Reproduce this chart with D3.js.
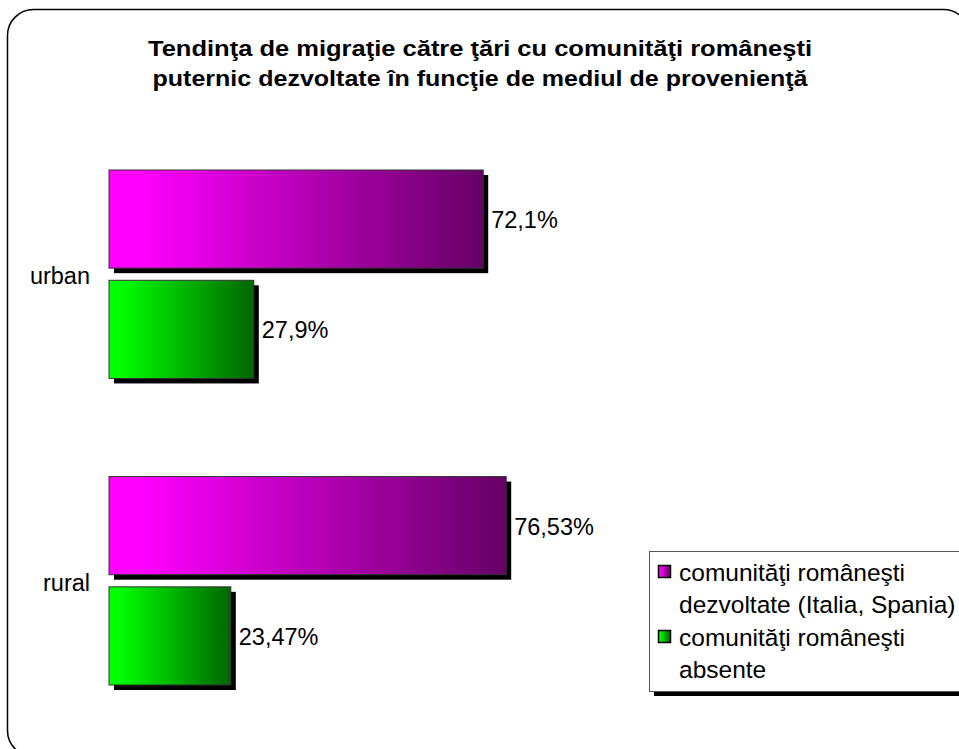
<!DOCTYPE html>
<html>
<head>
<meta charset="utf-8">
<script src="https://cdn.jsdelivr.net/npm/d3@7"></script>
<style>
  html, body { margin: 0; padding: 0; background: #fff; }
  svg { display: block; }
  text { font-family: "Liberation Sans", Arial, sans-serif; }
</style>
</head>
<body>
<script>
const categories = ["urban", "rural"];
const seriesNames = ["comunităţi româneşti dezvoltate (Italia, Spania)", "comunităţi româneşti absente"];
const seriesKeys = ["dezvoltate", "absente"];
const valuesDezvoltate = [72.1, 76.53];
const valuesAbsente = [27.9, 23.47];
const valueLabelsDezvoltate = ["72,1%", "76,53%"];
const valueLabelsAbsente = ["27,9%", "23,47%"];
const titleLines = ["Tendinţa de migraţie către ţări cu comunităţi româneşti",
                    "puternic dezvoltate în funcţie de mediul de provenienţă"];
const legendLines = [["comunităţi româneşti", "dezvoltate (Italia, Spania)"],
                     ["comunităţi româneşti", "absente"]];

const W = 959, H = 749;
const svg = d3.select("body").append("svg").attr("width", W).attr("height", H);

const defs = svg.append("defs");
const grads = [
  {id: "gMag", from: "#ff00ff", to: "#660066"},
  {id: "gGrn", from: "#00ff00", to: "#006600"}
];
grads.forEach(g => {
  const lg = defs.append("linearGradient").attr("id", g.id)
    .attr("x1", "0%").attr("x2", "100%").attr("y1", "0%").attr("y2", "0%");
  lg.append("stop").attr("offset", "0%").attr("stop-color", g.from);
  lg.append("stop").attr("offset", "8%").attr("stop-color", g.from);
  lg.append("stop").attr("offset", "100%").attr("stop-color", g.to);
});
const fills = {dezvoltate: "url(#gMag)", absente: "url(#gGrn)"};

// outer rounded frame
svg.append("rect").attr("x", 7.5).attr("y", 9.5).attr("width", 962).attr("height", 747)
  .attr("rx", 26).attr("ry", 26).attr("fill", "#fff").attr("stroke", "#000").attr("stroke-width", 1.5);

// title
const titleWidths = [664, 655];
svg.append("g").selectAll("text").data(titleLines).join("text")
  .attr("x", 480).attr("y", (d, i) => 56 + i * 30)
  .attr("text-anchor", "middle").attr("font-weight", "bold").attr("font-size", 22)
  .attr("textLength", (d, i) => titleWidths[i]).attr("lengthAdjust", "spacingAndGlyphs")
  .attr("fill", "#000").text(d => d);

const x = d3.scaleLinear().domain([0, 100]).range([109, 628]);
const y0 = d3.scaleBand().domain(categories).range([170, 685]).paddingInner(0.32).paddingOuter(0);
const y1 = d3.scaleBand().domain(seriesKeys).range([0, y0.bandwidth()]).paddingInner(0.11).paddingOuter(0);

const rows = [];
categories.forEach((c, i) => {
  rows.push({cat: c, key: "dezvoltate", v: valuesDezvoltate[i], label: valueLabelsDezvoltate[i]});
  rows.push({cat: c, key: "absente", v: valuesAbsente[i], label: valueLabelsAbsente[i]});
});

const g = svg.append("g");
// shadows
g.selectAll("rect.sh").data(rows).join("rect").attr("class", "sh")
  .attr("x", x(0) + 5).attr("y", d => y0(d.cat) + y1(d.key) + 5)
  .attr("width", d => x(d.v) - x(0)).attr("height", y1.bandwidth())
  .attr("fill", "#000");
// bars
g.selectAll("rect.bar").data(rows).join("rect").attr("class", "bar")
  .attr("x", x(0)).attr("y", d => y0(d.cat) + y1(d.key))
  .attr("width", d => x(d.v) - x(0)).attr("height", y1.bandwidth())
  .attr("fill", d => fills[d.key]).attr("stroke", "#333").attr("stroke-width", 1);
// value labels
g.selectAll("text.val").data(rows).join("text").attr("class", "val")
  .attr("x", d => x(d.v) + 8).attr("y", d => y0(d.cat) + y1(d.key) + y1.bandwidth() / 2 + 9)
  .attr("font-size", 23.5).attr("fill", "#000").text(d => d.label);

// category labels
g.selectAll("text.cat").data(categories).join("text").attr("class", "cat")
  .attr("x", 90).attr("y", d => y0(d) + y0.bandwidth() / 2 + 10)
  .attr("text-anchor", "end").attr("font-size", 23.5).attr("fill", "#000").text(d => d);

// legend
const lg = svg.append("g");
lg.append("rect").attr("x", 654).attr("y", 556).attr("width", 320).attr("height", 140).attr("fill", "#000");
lg.append("rect").attr("x", 649.5).attr("y", 551.5).attr("width", 320).attr("height", 140)
  .attr("fill", "#fff").attr("stroke", "#555").attr("stroke-width", 1);
seriesKeys.forEach((k, i) => {
  const top = 565 + i * 65;
  lg.append("rect").attr("x", 658.5).attr("y", top + 0.5).attr("width", 12).attr("height", 12)
    .attr("fill", fills[k]).attr("stroke", "#000").attr("stroke-width", 1.5);
  lg.append("g").selectAll("text").data(legendLines[i]).join("text")
    .attr("x", 679).attr("y", (d, j) => top + 16 + j * 32)
    .attr("font-size", 24.5).attr("fill", "#000").text(d => d);
});
</script>
</body>
</html>
